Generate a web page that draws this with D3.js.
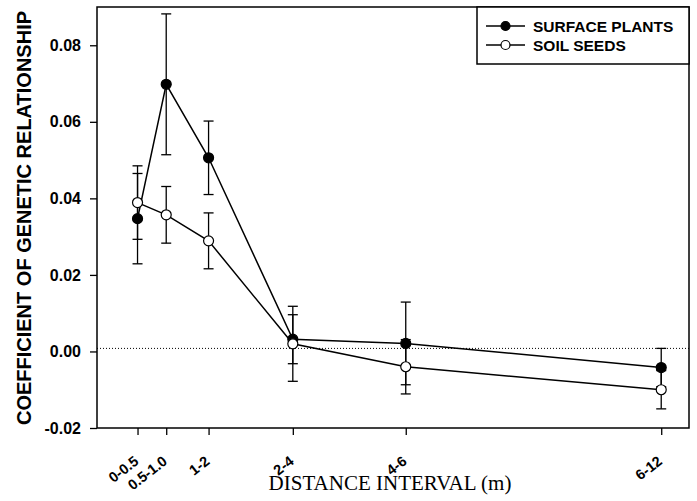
<!DOCTYPE html>
<html>
<head>
<meta charset="utf-8">
<script src="https://cdnjs.cloudflare.com/ajax/libs/d3/7.8.5/d3.min.js"></script>
<style>
  body { margin: 0; background: #fff; }
  svg { display: block; }
</style>
</head>
<body>
<div id="chart"></div>
<script>
// distance classes and their mean pair distance (m)
var categories = ["0-0.5", "0.5-1.0", "1-2", "2-4", "4-6", "6-12"];
var meanDist = [0.89, 1.52, 2.45, 4.30, 6.78, 12.39];

// coefficient of genetic relationship and its standard error
var surfacePlants = [0.0347, 0.0698, 0.0506, 0.0032, 0.0021, -0.0042];
var surfaceSE = [0.0118, 0.0184, 0.0096, 0.0064, 0.0108, 0.0050];
var soilSeeds = [0.0389, 0.0357, 0.0289, 0.0020, -0.0040, -0.0100];
var soilSE = [0.0096, 0.0074, 0.0073, 0.0098, 0.0071, 0.0050];

var yTicks = [-0.02, 0.00, 0.02, 0.04, 0.06, 0.08];
var meanLine = 0.0008;

var seriesNames = ["SURFACE PLANTS", "SOIL SEEDS"];

var margin = {top: 7, right: 8, bottom: 73, left: 97},
    W = 697, H = 501,
    width = W - margin.left - margin.right,
    height = H - margin.top - margin.bottom;

var svg = d3.select("#chart").append("svg")
    .attr("width", W)
    .attr("height", H)
  .append("g")
    .attr("transform", "translate(" + margin.left + "," + margin.top + ")");

var x = d3.scaleLinear().domain([0, 13]).range([0, width]);
var y = d3.scaleLinear().domain([-0.02, 0.09]).range([height, 0]);

var boldFont = "'Liberation Sans', Arial, sans-serif";

// y axis
var yAxis = svg.append("g")
    .call(d3.axisLeft(y).tickValues(yTicks).tickFormat(d3.format(".2f")).tickSize(7).tickPadding(9));
yAxis.select(".domain").remove();
yAxis.selectAll("line").attr("stroke-width", 1.3);
yAxis.selectAll("text")
    .style("font-family", boldFont)
    .style("font-weight", "bold")
    .style("font-size", "16px")
    .attr("fill", "#000")
    .text(function(d) { return d < 0 ? "-" + d3.format(".2f")(-d) : d3.format(".2f")(d); });

// x axis: ticks from the axis, slanted labels drawn by hand
var xAxis = svg.append("g")
    .attr("transform", "translate(0," + height + ")")
    .call(d3.axisBottom(x).tickValues(meanDist).tickSize(7).tickFormat(""));
xAxis.select(".domain").remove();
xAxis.selectAll("line").attr("stroke-width", 1.3);

svg.append("g").selectAll("text")
    .data(meanDist)
  .enter().append("text")
    .attr("transform", function(d) { return "translate(" + (x(d) + 2) + "," + (height + 35) + ") rotate(-38)"; })
    .attr("text-anchor", "end")
    .style("font-family", boldFont)
    .style("font-weight", "bold")
    .style("font-size", "14.5px")
    .text(function(d, i) { return categories[i]; });

// frame
svg.append("rect")
    .attr("x", 0).attr("y", 0)
    .attr("width", width).attr("height", height)
    .attr("fill", "none")
    .attr("stroke", "#000")
    .attr("stroke-width", 1.5);

// dotted mean line
svg.append("line")
    .attr("x1", 0).attr("x2", width)
    .attr("y1", y(meanLine)).attr("y2", y(meanLine))
    .attr("stroke", "#000")
    .attr("stroke-width", 1)
    .attr("stroke-dasharray", "1,2");

// series: surface first so soil seeds sit on top
var series = [
  {name: seriesNames[0], values: surfacePlants, se: surfaceSE, fill: "#000"},
  {name: seriesNames[1], values: soilSeeds, se: soilSE, fill: "#fff"}
];

var line = d3.line()
    .x(function(d) { return x(d.x); })
    .y(function(d) { return y(d.y); });

series.forEach(function(s) {
  var pts = s.values.map(function(v, i) { return {x: meanDist[i], y: v, se: s.se[i]}; });
  var g = svg.append("g");

  // error bars
  var eb = g.selectAll(".eb").data(pts).enter().append("g")
      .attr("stroke", "#000").attr("stroke-width", 1.3);
  eb.append("line")
      .attr("x1", function(d) { return x(d.x); }).attr("x2", function(d) { return x(d.x); })
      .attr("y1", function(d) { return y(d.y + d.se); }).attr("y2", function(d) { return y(d.y - d.se); });
  eb.append("line")
      .attr("x1", function(d) { return x(d.x) - 5; }).attr("x2", function(d) { return x(d.x) + 5; })
      .attr("y1", function(d) { return y(d.y + d.se); }).attr("y2", function(d) { return y(d.y + d.se); });
  eb.append("line")
      .attr("x1", function(d) { return x(d.x) - 5; }).attr("x2", function(d) { return x(d.x) + 5; })
      .attr("y1", function(d) { return y(d.y - d.se); }).attr("y2", function(d) { return y(d.y - d.se); });

  g.append("path")
      .datum(pts)
      .attr("d", line)
      .attr("fill", "none")
      .attr("stroke", "#000")
      .attr("stroke-width", 1.5);

  g.selectAll("circle").data(pts).enter().append("circle")
      .attr("cx", function(d) { return x(d.x); })
      .attr("cy", function(d) { return y(d.y); })
      .attr("r", 5)
      .attr("fill", s.fill)
      .attr("stroke", "#000")
      .attr("stroke-width", 1.2);
});

// legend
var leg = svg.append("g").attr("transform", "translate(" + (width - 212) + ",0)");
leg.append("rect")
    .attr("width", 212).attr("height", 57)
    .attr("fill", "#fff")
    .attr("stroke", "#000")
    .attr("stroke-width", 1.5);
series.forEach(function(s, i) {
  var row = leg.append("g").attr("transform", "translate(0," + (19 + i * 19) + ")");
  row.append("line")
      .attr("x1", 9).attr("x2", 48)
      .attr("stroke", "#000").attr("stroke-width", 1.3);
  row.append("circle")
      .attr("cx", 28.5).attr("r", 4.5)
      .attr("fill", s.fill).attr("stroke", "#000").attr("stroke-width", 1.2);
  row.append("text")
      .attr("x", 56).attr("dy", "0.36em")
      .style("font-family", boldFont)
      .style("font-weight", "bold")
      .style("font-size", "15.5px")
      .text(s.name);
});

// axis titles
svg.append("text")
    .attr("transform", "translate(" + (31 - margin.left) + "," + (218 - margin.top) + ") rotate(-90)")
    .attr("text-anchor", "middle")
    .style("font-family", boldFont)
    .style("font-weight", "bold")
    .style("font-size", "20px")
    .text("COEFFICIENT OF GENETIC RELATIONSHIP");

svg.append("text")
    .attr("x", 390 - margin.left)
    .attr("y", 490 - margin.top)
    .attr("text-anchor", "middle")
    .style("font-family", "'Liberation Serif', 'Times New Roman', serif")
    .style("font-size", "21px")
    .text("DISTANCE INTERVAL (m)");
</script>
</body>
</html>
